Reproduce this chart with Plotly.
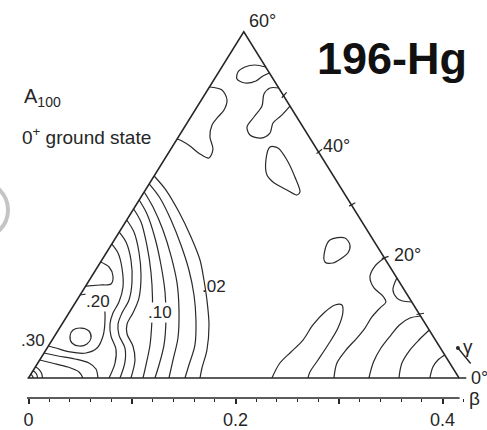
import numpy as np
import plotly.graph_objects as go

# ---------------------------------------------------------------------------
# Potential-energy surface of 196Hg (A100, 0+ ground state) in the
# (beta, gamma) sextant.  Points are given in the plane
# x = beta*cos(gamma), y = beta*sin(gamma).
# ---------------------------------------------------------------------------
beta_max = 0.416
beta_major = [0.0, 0.1, 0.2, 0.3, 0.4]
beta_major_text = ["0", "", "0.2", "", "0.4"]
beta_minor = [0.02, 0.04, 0.06, 0.08, 0.12, 0.14, 0.16, 0.18,
              0.22, 0.24, 0.26, 0.28, 0.32, 0.34, 0.36, 0.38, 0.42]
gamma_ticks = [10, 20, 30, 40, 50]
gamma_labelled = [0, 20, 40, 60]

# outer bundle, from the gamma = 60 edge down to the beta axis
c02 = [(0.1214, 0.2102), (0.1328, 0.1956), (0.1454, 0.1727), (0.1570, 0.1467),
       (0.1657, 0.1228), (0.1695, 0.1020), (0.1724, 0.0812), (0.1744, 0.0552),
       (0.1724, 0.0291), (0.1676, 0.0104), (0.1657, 0.0)]
c04 = [(0.1166, 0.2019), (0.1270, 0.1873), (0.1377, 0.1644), (0.1473, 0.1384),
       (0.1550, 0.1124), (0.1599, 0.0864), (0.1618, 0.0604), (0.1608, 0.0343),
       (0.1550, 0.0135), (0.1512, 0.0)]
c06 = [(0.1118, 0.1936), (0.1203, 0.1779), (0.1299, 0.1540), (0.1377, 0.1270),
       (0.1435, 0.0989), (0.1454, 0.0708), (0.1444, 0.0416), (0.1396, 0.0187),
       (0.1357, 0.0)]
c08 = [(0.1069, 0.1852), (0.1145, 0.1707), (0.1222, 0.1457), (0.1280, 0.1176),
       (0.1319, 0.0895), (0.1328, 0.0604), (0.1309, 0.0343), (0.1261, 0.0135),
       (0.1222, 0.0)]
c10 = [(0.1016, 0.1759), (0.1087, 0.1623), (0.1145, 0.1374), (0.1183, 0.1103),
       (0.1198, 0.0832), (0.1193, 0.0604), (0.1174, 0.0343), (0.1135, 0.0135),
       (0.1106, 0.0)]
# wavy inner lines
c12 = [(0.0949, 0.1644), (0.1019, 0.1519), (0.1067, 0.1311), (0.1087, 0.1072),
       (0.1067, 0.0832), (0.1009, 0.0676), (0.0952, 0.0562), (0.0952, 0.0458),
       (0.1009, 0.0333), (0.1029, 0.0187), (0.0990, 0.0)]
c14 = [(0.0877, 0.1519), (0.0942, 0.1415), (0.0990, 0.1228), (0.1000, 0.0999),
       (0.0971, 0.0812), (0.0903, 0.0676), (0.0865, 0.0562), (0.0874, 0.0447),
       (0.0932, 0.0312), (0.0932, 0.0166), (0.0884, 0.0)]
c16 = [(0.0805, 0.1394), (0.0865, 0.1301), (0.0903, 0.1145), (0.0913, 0.0947),
       (0.0874, 0.0791), (0.0816, 0.0676), (0.0787, 0.0562), (0.0797, 0.0437),
       (0.0845, 0.0302), (0.0836, 0.0156), (0.0778, 0.0)]
c18 = [(0.0697, 0.1207), (0.0778, 0.1155), (0.0816, 0.1061), (0.0797, 0.0978),
       (0.0691, 0.0968), (0.0553, 0.0957)]
c20 = [(0.0499, 0.0864), (0.0613, 0.0874), (0.0691, 0.0843), (0.0729, 0.0770),
       (0.0739, 0.0604), (0.0720, 0.0437), (0.0662, 0.0312), (0.0555, 0.0260),
       (0.0401, 0.0271), (0.0266, 0.0312), (0.0192, 0.0333)]
c22 = [(0.0401, 0.0437), (0.0430, 0.0499), (0.0507, 0.0520), (0.0584, 0.0489),
       (0.0604, 0.0416), (0.0565, 0.0354), (0.0488, 0.0333), (0.0420, 0.0364),
       (0.0401, 0.0437)]
c24 = [(0.0150, 0.0260), (0.0285, 0.0229), (0.0449, 0.0198), (0.0584, 0.0156),
       (0.0652, 0.0094), (0.0671, 0.0)]
c26 = [(0.0108, 0.0187), (0.0227, 0.0156), (0.0382, 0.0114), (0.0488, 0.0062),
       (0.0526, 0.0)]
# small rings round the spherical point
c28 = [(0.0135, 0.0), (0.0127, 0.0046), (0.0103, 0.0087), (0.0068, 0.0117)]
c30 = [(0.0087, 0.0), (0.0082, 0.0030), (0.0067, 0.0056), (0.0044, 0.0075)]
c32 = [(0.0044, 0.0), (0.0041, 0.0015), (0.0034, 0.0028), (0.0022, 0.0038)]

# islands in the upper part of the sextant
near_gamma60 = [(0.1748, 0.3028), (0.1869, 0.2997), (0.1918, 0.2893), (0.1889, 0.2789),
                (0.1831, 0.2716), (0.1773, 0.2633), (0.1753, 0.2508), (0.1782, 0.2383),
                (0.1744, 0.2289), (0.1657, 0.2331), (0.1560, 0.2414), (0.1483, 0.2466),
                (0.1436, 0.2487)]
apex_loop = [(0.2292, 0.3236), (0.2188, 0.3257), (0.2091, 0.3236), (0.2024, 0.3184),
             (0.2014, 0.3111), (0.2091, 0.3070), (0.2198, 0.3091), (0.2265, 0.3143),
             (0.2327, 0.3174)]
bean = [(0.2417, 0.3018), (0.2333, 0.3018), (0.2275, 0.2955), (0.2256, 0.2830),
        (0.2178, 0.2716), (0.2111, 0.2612), (0.2140, 0.2529), (0.2246, 0.2497),
        (0.2333, 0.2549), (0.2362, 0.2654), (0.2439, 0.2727), (0.2526, 0.2830)]
teardrop = [(0.2333, 0.2404), (0.2410, 0.2393), (0.2497, 0.2269), (0.2574, 0.2092),
            (0.2623, 0.1936), (0.2594, 0.1904), (0.2497, 0.1956), (0.2362, 0.2040),
            (0.2304, 0.2112), (0.2294, 0.2269), (0.2333, 0.2404)]
island_mid = [(0.2912, 0.1436), (0.3057, 0.1457), (0.3106, 0.1384), (0.3086, 0.1301),
              (0.3028, 0.1249), (0.2941, 0.1197), (0.2864, 0.1207), (0.2864, 0.1332),
              (0.2912, 0.1436)]

# prolate side, large beta
edge_loop = [(0.3559, 0.1041), (0.3521, 0.0916), (0.3560, 0.0832), (0.3614, 0.0801),
             (0.3703, 0.0791)]
tongue = [(0.2352, 0.0), (0.2429, 0.0156), (0.2536, 0.0271), (0.2652, 0.0395),
          (0.2748, 0.0552), (0.2864, 0.0687), (0.2961, 0.0760), (0.3028, 0.0760),
          (0.3038, 0.0687), (0.2990, 0.0520), (0.2893, 0.0343), (0.2797, 0.0187),
          (0.2719, 0.0062), (0.2700, 0.0)]
prolate1 = [(0.2951, 0.0), (0.2980, 0.0156), (0.3067, 0.0291), (0.3173, 0.0416),
            (0.3251, 0.0520), (0.3318, 0.0635), (0.3395, 0.0728), (0.3453, 0.0791),
            (0.3424, 0.0853), (0.3338, 0.0937), (0.3299, 0.1051), (0.3347, 0.1165),
            (0.3439, 0.1249)]
prolate2 = [(0.3788, 0.0645), (0.3685, 0.0624), (0.3584, 0.0552), (0.3502, 0.0447),
            (0.3405, 0.0312), (0.3333, 0.0166), (0.3289, 0.0)]
prolate3 = [(0.3872, 0.0499), (0.3772, 0.0395), (0.3685, 0.0291), (0.3608, 0.0156),
            (0.3579, 0.0)]
prolate4 = [(0.4022, 0.0239), (0.3956, 0.0187), (0.3907, 0.0114), (0.3878, 0.0)]

contour_lines = [c02, c04, c06, c08, c10, c12, c14, c16, c18, c20, c22, c24, c26,
                 c28, c30, c32, near_gamma60, apex_loop, bean, teardrop, island_mid,
                 edge_loop, tongue, prolate1, prolate2, prolate3, prolate4]

INK = "#262626"
LETTER = "Liberation Sans, Arial, sans-serif"

fig = go.Figure()

for line in contour_lines:
    xs, ys = zip(*line)
    fig.add_trace(go.Scatter(
        x=list(xs), y=list(ys), mode="lines",
        line=dict(color="#2a2a2a", width=1.2, shape="spline", smoothing=0.9),
        hoverinfo="skip", showlegend=False))


def edge_point(g_deg):
    """Point where the ray at angle gamma meets the outer edge of the sextant."""
    g = np.radians(g_deg)
    t = beta_max / (np.cos(g) + np.sin(g) / np.sqrt(3.0))
    return float(t * np.cos(g)), float(t * np.sin(g))


# sextant outline: two straight edges and the gamma = 0 axis
apex = edge_point(60)
fig.add_trace(go.Scatter(
    x=[0.0, apex[0], beta_max], y=[0.0, apex[1], 0.0],
    mode="lines", line=dict(color=INK, width=1.5),
    hoverinfo="skip", showlegend=False))
fig.add_trace(go.Scatter(
    x=[-0.001, beta_max + 0.007], y=[0.0, 0.0],
    mode="lines", line=dict(color=INK, width=1.6),
    hoverinfo="skip", showlegend=False))

# gamma tick marks on the outer edge
for g in gamma_ticks:
    ex, ey = edge_point(g)
    fig.add_trace(go.Scatter(
        x=[ex * 0.993, ex * 1.012], y=[ey * 0.993, ey * 1.012], mode="lines",
        line=dict(color=INK, width=1.2), hoverinfo="skip", showlegend=False))

annotations = []
gamma_shift = {0: (10, 0), 20: (8, 3), 40: (2, 6), 60: (3, 11)}
for g in gamma_labelled:
    ex, ey = edge_point(g)
    dx, dy = gamma_shift[g]
    annotations.append(dict(
        x=ex, y=ey, xref="x", yref="y", text=f"{g}°", showarrow=False,
        xanchor="left", yanchor="middle", xshift=dx, yshift=dy,
        font=dict(family=LETTER, size=18, color=INK)))

# contour level labels
for txt, lx, ly, bg in [(".30", 0.0039, 0.0395, "rgba(0,0,0,0)"),
                        (".20", 0.0676, 0.0801, "white"),
                        (".10", 0.1271, 0.0682, "white"),
                        (".02", 0.1797, 0.0957, "rgba(0,0,0,0)")]:
    annotations.append(dict(
        x=lx, y=ly, xref="x", yref="y", text=txt, showarrow=False,
        xanchor="center", yanchor="middle", bgcolor=bg, borderpad=0,
        font=dict(family=LETTER, size=17, color=INK)))

# gamma direction arrow and axis symbols
annotations.append(dict(
    x=0.4149, y=0.0312, ax=0.4284, ay=0.0135, xref="x", yref="y",
    axref="x", ayref="y", text="", showarrow=True, arrowhead=6,
    arrowsize=0.7, arrowwidth=1.4, arrowcolor=INK))
annotations.append(dict(
    x=0.4251, y=0.0330, xref="x", yref="y", text="γ", showarrow=False,
    xanchor="center", yanchor="middle",
    font=dict(family=LETTER, size=19, color=INK)))
annotations.append(dict(
    x=0.4314, y=0.0, xref="x", yref="paper", text="β", showarrow=False,
    xanchor="center", yanchor="middle",
    font=dict(family=LETTER, size=19, color=INK)))

# headings
annotations.append(dict(
    x=0.805, y=0.852, xref="paper", yref="paper", text="<b>196-Hg</b>",
    showarrow=False, xanchor="center", yanchor="middle",
    font=dict(family="Liberation Sans, Arial, sans-serif", size=45, color="#111111")))
annotations.append(dict(
    x=0.045, y=0.756, xref="paper", yref="paper", text="A<sub>100</sub>",
    showarrow=False, xanchor="left", yanchor="middle",
    font=dict(family=LETTER, size=20, color=INK)))
annotations.append(dict(
    x=0.041, y=0.658, xref="paper", yref="paper",
    text="0<sup>+</sup> ground state",
    showarrow=False, xanchor="left", yanchor="middle",
    font=dict(family=LETTER, size=19, color=INK)))

fig.update_layout(
    width=487, height=430,
    margin=dict(l=0, r=0, t=0, b=32),
    paper_bgcolor="white", plot_bgcolor="white",
    xaxis=dict(
        range=[-0.02754, 0.44300], showgrid=False, zeroline=False, showline=False,
        tickmode="array", tickvals=beta_major, ticktext=beta_major_text,
        ticks="outside", ticklen=5, tickwidth=1.8, tickcolor=INK,
        minor=dict(tickmode="array", tickvals=beta_minor, ticks="outside",
                   ticklen=3, tickwidth=1, tickcolor=INK),
        tickfont=dict(family=LETTER, size=18, color=INK),
        ticklabelstandoff=0, automargin=False, fixedrange=True),
    yaxis=dict(range=[-0.02081, 0.39334], visible=False, fixedrange=True),
    annotations=annotations,
    shapes=[
        # beta scale line
        dict(type="line", xref="x", yref="paper", x0=-0.0015, x1=0.4165,
             y0=0, y1=0, line=dict(color=INK, width=1.3)),
        # grey ring at the left border
        dict(type="circle", xref="paper", yref="paper",
             x0=-0.0986, x1=0.0164, y0=0.402, y1=0.543,
             line=dict(color="#c4c4c4", width=4)),
    ],
)

fig.write_html("out.html")
